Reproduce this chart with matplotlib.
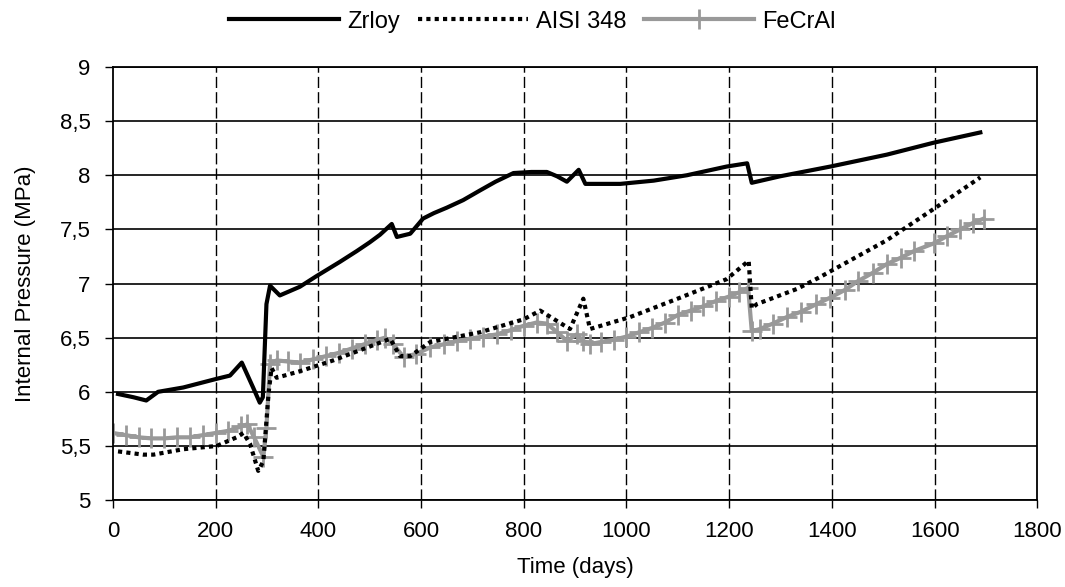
import matplotlib.pyplot as plt
from matplotlib.ticker import FuncFormatter

# Zrloy (solid black)
zr_days = [10, 40, 65, 88, 137, 202, 228, 251, 273, 286, 292, 299, 306, 325, 364,
           397, 442, 475, 500, 520, 543, 553, 579, 604, 625, 650, 682, 715, 745,
           780, 815, 845, 865, 884, 907, 920, 988, 1053, 1118, 1195, 1235, 1244,
           1299, 1397, 1507, 1598, 1689]
zr_pres = [5.98, 5.95, 5.92, 6.0, 6.04, 6.12, 6.15, 6.27, 6.04, 5.9, 5.95, 6.81,
           6.98, 6.89, 6.97, 7.07, 7.2, 7.3, 7.38, 7.45, 7.55, 7.43, 7.46, 7.6,
           7.65, 7.7, 7.77, 7.86, 7.94, 8.02, 8.03, 8.03, 7.99, 7.94, 8.05, 7.92,
           7.92, 7.95, 8.0, 8.08, 8.11, 7.93, 7.99, 8.08, 8.19, 8.3, 8.395]

# AISI 348 (dotted black)
ss_days = [10, 59, 79, 137, 202, 241, 254, 267, 283, 293, 303, 309, 319, 364, 429,
           540, 559, 579, 618, 715, 800, 832, 890, 916, 929, 1007, 1105, 1195,
           1238, 1244, 1254, 1332, 1377, 1507, 1605, 1689]
ss_pres = [5.45, 5.42, 5.42, 5.47, 5.5, 5.58, 5.62, 5.52, 5.27, 5.36, 5.98, 6.22,
           6.13, 6.19, 6.29, 6.49, 6.33, 6.33, 6.46, 6.55, 6.67, 6.75, 6.58, 6.86,
           6.58, 6.69, 6.87, 7.04, 7.21, 6.77, 6.81, 6.95, 7.06, 7.4, 7.71, 7.98]

# FeCrAl (grey with + markers)
fe_days = [0, 25, 50, 75, 100, 125, 150, 175, 200, 225, 250, 262, 275, 293, 299,
           306, 319, 340, 364, 390, 415, 440, 465, 490, 515, 530, 546, 566, 590,
           618, 645, 670, 695, 720, 747, 775, 800, 825, 845, 865, 884, 903, 916,
           929, 950, 975, 1000, 1025, 1050, 1075, 1100, 1125, 1150, 1175, 1200,
           1220, 1237, 1244, 1260, 1285, 1312, 1340, 1370, 1397, 1425, 1450, 1480,
           1507, 1535, 1560, 1598, 1625, 1650, 1675, 1696]
fe_pres = [5.62, 5.6, 5.58, 5.57, 5.57, 5.58, 5.58, 5.6, 5.62, 5.64, 5.68, 5.7,
           5.58, 5.4, 5.67, 6.26, 6.29, 6.28, 6.27, 6.3, 6.33, 6.36, 6.4, 6.44,
           6.48, 6.5, 6.44, 6.32, 6.35, 6.41, 6.44, 6.47, 6.49, 6.51, 6.53, 6.57,
           6.61, 6.64, 6.63, 6.55, 6.47, 6.53, 6.47, 6.44, 6.46, 6.48, 6.51, 6.55,
           6.59, 6.64, 6.71, 6.75, 6.79, 6.84, 6.88, 6.92, 6.96, 6.56, 6.58, 6.63,
           6.69, 6.74, 6.81, 6.87, 6.94, 7.02, 7.1, 7.18, 7.24, 7.3, 7.37, 7.44,
           7.5, 7.56, 7.6]

x_ticks = [0, 200, 400, 600, 800, 1000, 1200, 1400, 1600, 1800]
y_ticks = [5, 5.5, 6, 6.5, 7, 7.5, 8, 8.5, 9]

plt.rcParams["font.family"] = ["Liberation Sans", "DejaVu Sans"]

fig = plt.figure(figsize=(10.65, 5.87), dpi=100)
ax = fig.add_axes([0.106, 0.148, 0.868, 0.738])

ax.plot(zr_days, zr_pres, color="black", linewidth=3, label="Zrloy", zorder=4)
ax.plot(ss_days, ss_pres, color="black", linewidth=3, linestyle=(0, (1, 1)),
        label="AISI 348", zorder=3)
ax.plot(fe_days, fe_pres, color="#999999", linewidth=3, marker="+",
        markersize=14, markeredgewidth=2, label="FeCrAl", zorder=2)

ax.set_xlim(0, 1800)
ax.set_ylim(5, 9)
ax.set_xticks(x_ticks)
ax.set_yticks(y_ticks)
ax.yaxis.set_major_formatter(FuncFormatter(lambda v, p: f"{v:g}".replace(".", ",")))

ax.grid(axis="y", color="black", linewidth=1.2, linestyle="-")
ax.grid(axis="x", color="black", linewidth=1.0, linestyle=(0, (8, 3)))
ax.set_axisbelow(True)
# the outer vertical gridlines sit on the frame, keep the frame solid
xgrid = ax.xaxis.get_gridlines()
xgrid[0].set_visible(False)
xgrid[-1].set_visible(False)
for sp in ax.spines.values():
    sp.set_color("black")
    sp.set_linewidth(1.3)
    sp.set_zorder(5)

ax.tick_params(axis="both", direction="out", length=6, width=1, colors="black",
               labelsize=16)
ax.tick_params(axis="x", pad=9)
ax.tick_params(axis="y", pad=10)

ax.set_xlabel("Time (days)", fontsize=16, labelpad=11)
ax.set_ylabel("Internal Pressure (MPa)", fontsize=16, labelpad=17)

fig.legend(loc="upper center", bbox_to_anchor=(0.5, 1.018), ncol=3, frameon=False,
           fontsize=17, handlelength=4.65, numpoints=1, columnspacing=0.75,
           handletextpad=0.35)

fig.savefig("out.png")
